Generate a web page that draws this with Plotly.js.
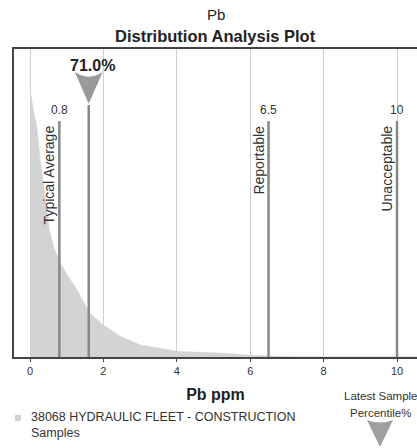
<!DOCTYPE html>
<html>
<head>
<meta charset="utf-8">
<script src="https://cdn.plot.ly/plotly-3.0.1.min.js"></script>
<style>html,body{margin:0;padding:0;background:#fff;}#chart{width:417px;height:448px;}</style>
</head>
<body>
<div id="chart"></div>
<script>
// Distribution curve (Pb ppm vs relative frequency)
const distX = [0, 0.08, 0.19, 0.27, 0.41, 0.52, 0.65, 0.82, 1.05, 1.28, 1.45, 1.63, 1.99, 2.45, 3.0, 3.54, 4.0, 4.44, 5.18, 6.0, 6.46, 7.0, 8.0, 9.0, 10.0, 10.6];
const distY = [87.3, 80.8, 74.4, 64.6, 52.6, 42, 35.5, 30.5, 26, 21.8, 18, 14.3, 10.4, 6.8, 3.9, 2.9, 1.9, 1.6, 1.3, 0.6, 0.3, 0.15, 0.1, 0.05, 0.05, 0.05];

// Limit markers
const limitNames = ["Typical Average", "Reportable", "Unacceptable"];
const limitValues = [0.8, 6.5, 10];
const limitLabels = ["0.8", "6.5", "10"];

// Latest sample
const latestValue = 1.6;
const latestPercentile = "71.0%";

const seriesName = "38068 HYDRAULIC FLEET - CONSTRUCTION<br>Samples";
const xTicks = [0, 2, 4, 6, 8, 10];

const FONT = "Liberation Sans, Arial, sans-serif";
const LIMIT_TOP = 76.6;
const LATEST_TOP = 81.8;

// pixel helpers for layout-level decorations
const L = 14, T = 49, B = 91, W = 417, H = 448;
const plotW = W - L, plotH = H - T - B;
const pxX = p => (p - L) / plotW;
const pxY = p => (H - B - p) / plotH;

const traces = [];
traces.push({
  x: distX, y: distY, type: 'scatter', mode: 'lines',
  fill: 'tozeroy', fillcolor: '#d3d3d3',
  line: {color: '#d0d0d0', width: 0.5, shape: 'linear'},
  name: seriesName, showlegend: false, hoverinfo: 'skip'
});
limitValues.forEach((v) => {
  traces.push({
    x: [v, v], y: [0, LIMIT_TOP], type: 'scatter', mode: 'lines',
    line: {color: '#888888', width: 2.5}, showlegend: false, hoverinfo: 'skip'
  });
});
traces.push({
  x: [latestValue, latestValue], y: [0, LATEST_TOP], type: 'scatter', mode: 'lines',
  line: {color: '#888888', width: 2.5}, showlegend: false, hoverinfo: 'skip'
});

const annotations = [];
annotations.push({x: 0.5, y: pxY(14), xref: 'paper', yref: 'paper', text: 'Pb', showarrow: false,
  font: {family: FONT, size: 15, color: '#222'}, xanchor: 'center', yanchor: 'middle'});
annotations.push({x: 0.5, y: pxY(36), xref: 'paper', yref: 'paper', text: '<b>Distribution Analysis Plot</b>', showarrow: false,
  font: {family: FONT, size: 16.5, color: '#222'}, xanchor: 'center', yanchor: 'middle'});

limitValues.forEach((v, i) => {
  annotations.push({
    x: v, y: 80.2, xref: 'x', yref: 'y', text: limitLabels[i], showarrow: false,
    font: {family: FONT, size: 12, color: '#333'}, xanchor: 'center', yanchor: 'middle'
  });
  annotations.push({
    x: v, y: LIMIT_TOP - 0.8, xref: 'x', yref: 'y', text: limitNames[i], showarrow: false,
    textangle: -90, font: {family: FONT, size: 14, color: '#333'},
    xanchor: 'right', yanchor: 'top', xshift: 0
  });
});
annotations.push({
  x: latestValue, y: 94.5, xref: 'x', yref: 'y', text: '<b>' + latestPercentile + '</b>',
  showarrow: false, font: {family: FONT, size: 16, color: '#222'}, xanchor: 'center', yanchor: 'middle', xshift: 4
});
annotations.push({
  x: pxX(342), y: pxY(396), xref: 'paper', yref: 'paper', text: 'Latest Sample', showarrow: false,
  font: {family: FONT, size: 11.5, color: '#333'}, xanchor: 'left', yanchor: 'middle'
});
annotations.push({
  x: pxX(380), y: pxY(413), xref: 'paper', yref: 'paper', text: 'Percentile%', showarrow: false,
  font: {family: FONT, size: 11.5, color: '#333'}, xanchor: 'center', yanchor: 'middle'
});
annotations.push({
  x: pxX(29), y: pxY(425), xref: 'paper', yref: 'paper', text: seriesName, showarrow: false, align: 'left',
  font: {family: FONT, size: 12.5, color: '#333'}, xanchor: 'left', yanchor: 'middle'
});

// latest-sample arrow head above its line (data coordinates relative to latestValue)
const dx = 0.38;
const shapes = [
  {type: 'path', xref: 'x', yref: 'y',
   path: `M ${latestValue - dx} 92.5 Q ${latestValue} 89.5 ${latestValue + dx} 92.5 L ${latestValue} 82.2 Z`,
   fillcolor: '#9a9a9a', line: {width: 0}},
  {type: 'path', xref: 'paper', yref: 'paper',
   path: `M ${pxX(367)} ${pxY(420)} Q ${pxX(380)} ${pxY(425)} ${pxX(393)} ${pxY(420)} L ${pxX(380)} ${pxY(447)} Z`,
   fillcolor: '#a0a0a0', line: {width: 0}},
  {type: 'rect', xref: 'paper', yref: 'paper', x0: pxX(15), x1: pxX(21), y0: pxY(421), y1: pxY(415),
   fillcolor: '#d3d3d3', line: {width: 0}}
];

const layout = {
  width: W, height: H,
  margin: {l: L, r: 0, t: T, b: B},
  paper_bgcolor: '#fff', plot_bgcolor: '#fff',
  font: {family: FONT, color: '#333'},
  xaxis: {range: [-0.436, 10.545], tickvals: xTicks, ticktext: xTicks.map(String),
          showgrid: true, gridcolor: '#cfcfcf', gridwidth: 1, zeroline: false,
          showline: true, linecolor: '#444', linewidth: 2, mirror: true,
          ticks: 'outside', ticklen: 3, tickcolor: '#444', tickfont: {size: 11, color: '#333'},
          title: {text: '<b>Pb ppm</b>', font: {size: 16, color: '#222'}, standoff: 13}},
  yaxis: {range: [0, 100], showticklabels: false, showgrid: false, zeroline: false,
          showline: true, linecolor: '#444', linewidth: 2, ticks: ''},
  showlegend: false,
  annotations: annotations,
  shapes: shapes
};

Plotly.newPlot('chart', traces, layout, {displayModeBar: false, staticPlot: true});
</script>
</body>
</html>
